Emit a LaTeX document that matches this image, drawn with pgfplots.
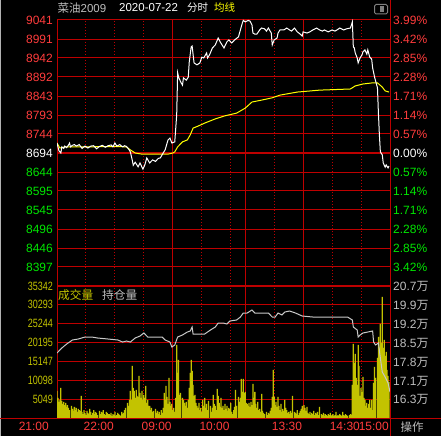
\documentclass[border=0pt]{standalone}
\usepackage{pgfplots}
\pgfplotsset{compat=1.18}
\usepackage{fontspec}
\setmainfont{Liberation Sans}
\newfontfamily\cjk{Noto Sans CJK SC}
\newfontfamily\narrow[FakeStretch=0.75]{Liberation Sans}

\definecolor{gridred}{RGB}{190,0,0}
\definecolor{upred}{RGB}{255,60,60}
\definecolor{dngreen}{RGB}{0,230,0}
\definecolor{avgyel}{RGB}{255,255,0}
\definecolor{volyel}{RGB}{195,195,0}
\definecolor{oigray}{RGB}{200,200,200}
\definecolor{txtgray}{RGB}{190,190,190}

\pgfplotsset{
  panel/.style={
    anchor=south west, scale only axis, width=333pt,
    xmin=0, xmax=345,
    axis line style={draw=gridred, line width=1pt},
    tick style={draw=none}, major tick length=0pt, minor tick length=0pt,
    xtick={0,60,120,180,255,315,345},
    minor xtick={30,60,90,150,180,225,285,315},
    xmajorgrids=false, xminorgrids=true, ymajorgrids=true,
    major grid style={gridred, line width=1pt},
    minor grid style={gridred, line width=1pt, dash pattern=on 1pt off 2pt},
    extra x ticks={120,195,255}, extra x tick labels={},
    extra x tick style={grid=major, major grid style={gridred, line width=1pt}},
    ticklabel style={font=\fontsize{12}{14}\selectfont, inner sep=0pt},
  },
}

\begin{document}
\begin{tikzpicture}
\fill[black] (0pt,0pt) rectangle (441pt,436pt);

% price panel
\begin{axis}[panel, at={(57pt,150pt)}, height=266pt,
  ymin=8347, ymax=9041,
  xticklabels={},
  ytick={8396.6,8446.1,8495.7,8545.3,8594.9,8644.4,8694,8743.6,8793.1,8842.7,8892.3,8941.9,8991.4,9041},
  yticklabels={\textcolor{dngreen}{8397},\textcolor{dngreen}{8446},\textcolor{dngreen}{8496},\textcolor{dngreen}{8545},\textcolor{dngreen}{8595},\textcolor{dngreen}{8644},\textcolor{white}{8694},\textcolor{upred}{8744},\textcolor{upred}{8793},\textcolor{upred}{8843},\textcolor{upred}{8892},\textcolor{upred}{8942},\textcolor{upred}{8991},\textcolor{upred}{9041}},
  yticklabel style={xshift=-4pt},
]
\draw[gridred, line width=2.5pt] (axis cs:0,8694) -- (axis cs:345,8694);
% average price
\addplot[avgyel, line width=1pt] coordinates {
(0,8720)(3,8707)(5,8708)(8,8710)(30,8710)(60,8711)(72,8710)(76,8702)(81,8694)(88,8691)(115,8691)(120,8694)(122,8697)(125,8710)(130,8723)(135,8728)(138,8741)(141,8759)(146,8764)(153,8772)(164,8783)(174,8791)(186,8798)(195,8811)(202,8827)(212,8832)(223,8838)(231,8845)(249,8853)(272,8858)(304,8861)(309,8869)(317,8874)(327,8877)(332,8877)(337,8866)(340,8856)(344,8853)
};
% last price
\addplot[white, line width=1pt] coordinates {
(0,8720)(2,8700)(4,8694)(5,8710)(7,8706)(8,8712)(10,8708)(12,8715)(13,8720)(14,8710)(16,8714)(18,8716)(20,8712)(23,8716)(26,8706)(29,8712)(32,8707)(35,8712)(38,8713)(41,8705)(44,8711)(47,8714)(50,8709)(53,8713)(56,8715)(58,8710)(60,8720)(62,8712)(65,8716)(68,8710)(70,8713)(72,8711)(74,8705)(76,8697)(78,8675)(79,8662)(81,8670)(84,8658)(86,8668)(89,8652)(91,8663)(93,8681)(96,8668)(99,8676)(102,8672)(105,8680)(107,8681)(110,8694)(112,8702)(115,8728)(117,8733)(119,8720)(122,8723)(124,8793)(125,8903)(126,8892)(128,8880)(130,8871)(131,8890)(134,8884)(136,8892)(137,8931)(139,8971)(140,8973)(142,8929)(145,8924)(148,8929)(150,8944)(152,8942)(155,8955)(156,8942)(158,8950)(161,8968)(164,8976)(167,8994)(169,8984)(171,8976)(173,8968)(176,8984)(178,8989)(181,8981)(184,8989)(188,8997)(190,9015)(192,9033)(193,9040)(195,9036)(198,9040)(200,9038)(202,9028)(203,9007)(205,9004)(207,9004)(210,9015)(212,9020)(215,9018)(217,9012)(219,9020)(222,9007)(223,8976)(225,8989)(228,8994)(229,9007)(231,9015)(235,9015)(238,9020)(241,9015)(243,9012)(246,9020)(249,9010)(252,9004)(254,8999)(255,9010)(259,9007)(262,9010)(265,9015)(269,9020)(272,9015)(275,9012)(277,9015)(281,9010)(285,9015)(288,9012)(290,9015)(293,9020)(297,9015)(300,9018)(304,9020)(306,9036)(307,8971)(308,8968)(309,8955)(311,8942)(312,8929)(314,8942)(316,8950)(317,8958)(319,8963)(321,8952)(322,8963)(324,8944)(326,8939)(327,8916)(329,8892)(332,8864)(333,8798)(334,8741)(335,8697)(337,8689)(338,8668)(340,8657)(341,8663)(343,8655)(344,8660)
};
\end{axis}

% percent scale on the right
\begin{axis}[at={(57pt,150pt)}, anchor=south west, scale only axis, width=333pt, height=266pt,
  xmin=0, xmax=345, ymin=-3.99, ymax=3.99,
  hide x axis, axis y line*=right, axis line style={draw=none},
  tick style={draw=none}, major tick length=0pt,
  ytick={-3.42,-2.85,-2.28,-1.71,-1.14,-0.57,0,0.57,1.14,1.71,2.28,2.85,3.42,3.99},
  yticklabels={\textcolor{dngreen}{3.42\%},\textcolor{dngreen}{2.85\%},\textcolor{dngreen}{2.28\%},\textcolor{dngreen}{1.71\%},\textcolor{dngreen}{1.14\%},\textcolor{dngreen}{0.57\%},\textcolor{white}{0.00\%},\textcolor{upred}{0.57\%},\textcolor{upred}{1.14\%},\textcolor{upred}{1.71\%},\textcolor{upred}{2.28\%},\textcolor{upred}{2.85\%},\textcolor{upred}{3.42\%},\textcolor{upred}{3.99\%}},
  yticklabel style={font=\fontsize{12}{14}\selectfont, inner sep=0pt, anchor=west, xshift=3pt},
]
\end{axis}

% volume panel
\begin{axis}[panel, at={(57pt,18pt)}, height=132pt,
  ymin=0, ymax=35342,
  xticklabels={21:00\hspace*{7pt},22:00,09:00,10:00,13:30,14:30,15:00},
  xticklabel style={anchor=north east, text=upred, xshift=-1pt, yshift=-4pt},
  ytick={5049,10098,15147,20195,25244,30293,35342},
  yticklabels={5049,10098,15147,20195,25244,30293,35342},
  yticklabel style={font=\narrow\fontsize{12}{14}\selectfont, text=volyel, xshift=-4pt},
  scaled y ticks=false,
]
\addplot[ybar, bar width=1.3, fill=volyel, draw=none] coordinates {
(0,7240)(1,5360)(2,4290)(3,4820)(4,8040)(5,4560)(6,3750)(7,4290)(8,3480)(9,4020)(10,2950)(11,3480)(12,2680)(13,2140)
(15,3220)(16,2410)(17,1880)(18,2950)(19,2140)(20,2680)(21,1610)(22,2410)(23,2140)(24,1880)(25,5900)(26,1610)(27,1070)(28,2140)
(29,1340)(30,800)(31,1880)(32,1340)(33,1070)(34,2410)(35,1610)(36,800)(37,1340)(38,2140)(39,1070)(40,1610)(41,1340)(42,800)
(44,1880)(45,1070)(46,1610)(47,1340)(48,2140)(49,1070)(50,800)(51,1610)(52,1340)(53,1070)(54,1070)(55,800)(56,1340)(57,540)
(58,1070)(59,800)(60,1610)(61,540)(62,800)(63,1340)(64,1070)(65,800)(66,540)(67,1610)(68,1070)(69,1340)(70,2140)(71,2680)
(73,4020)(74,3220)(75,4820)(76,7240)(77,4820)(78,13940)(79,8040)(80,7240)(81,5360)(82,7500)(83,5900)(84,5630)(85,11260)(86,6700)
(87,5360)(88,7240)(89,4820)(90,6160)(91,5360)(92,8580)(93,4020)(94,4820)(95,3220)(96,3220)(97,2140)(98,2680)(99,1610)(100,1880)
(102,2410)(103,1340)(104,1880)(105,1070)(106,1610)(107,800)(108,2140)(109,1340)(110,2680)(111,6700)(112,4820)(113,8580)(114,5630)
(115,3750)(116,10720)(117,4290)(118,3220)(119,3750)(120,2140)(121,2680)(122,1610)(123,5360)(124,19560)(125,12060)(126,15540)(127,6160)(128,6700)
(130,5360)(131,4820)(132,4020)(133,3220)(134,4290)(135,2680)(136,4820)(137,8040)(138,12060)(139,15540)(140,12600)(141,8840)(142,5900)(143,6160)
(144,4020)(145,3220)(146,2680)(147,4020)(148,2140)(149,2680)(150,1610)(151,4820)(152,3220)(153,5360)(154,2680)(155,3750)(156,2140)(157,4560)
(159,3220)(160,1610)(161,2680)(162,6160)(163,3750)(164,3220)(165,2140)(166,7770)(167,5900)(168,4020)(169,2950)(170,5360)(171,2680)(172,3220)
(173,2140)(174,3750)(175,2410)(176,3220)(177,1880)(178,2680)(179,2410)(180,4020)(181,1610)(182,1070)(183,2140)(184,2950)(185,7500)(186,3220)
(188,5630)(189,4290)(190,5360)(191,10450)(192,6970)(193,10450)(194,6700)(195,6970)(196,4020)(197,3750)(198,3220)(199,4020)(200,2950)(201,4290)
(202,3480)(203,9110)(204,5360)(205,6970)(206,3750)(207,2680)(208,4290)(209,2140)(210,2410)(211,1610)(212,6430)(213,1880)(214,1340)(215,1070)
(217,1610)(218,800)(219,1340)(220,1070)(221,1880)(222,2680)(223,5630)(224,12860)(225,5630)(226,3480)(227,4290)(228,2950)(229,5630)(230,3220)
(231,2140)(232,3750)(233,1610)(234,2410)(235,1880)(236,4820)(237,2680)(238,2140)(239,1340)(240,1610)(241,1070)(242,1880)(243,1340)(244,5900)
(246,1610)(247,1340)(248,1070)(249,2140)(250,800)(251,1340)(252,1880)(253,2410)(254,3220)(255,2140)(256,3480)(257,2680)(258,1880)(259,2950)
(260,1340)(261,1070)(262,1610)(263,800)(264,1340)(265,1070)(266,1880)(267,800)(268,1340)(269,1070)(270,1610)(271,800)(272,2950)
(274,1070)(275,800)(276,1340)(277,540)(278,1070)(279,800)(280,540)(281,1070)(282,800)(283,1340)(284,540)(285,800)(286,1070)(287,540)
(288,800)(289,1610)(290,540)(291,800)(292,540)(293,1070)(294,800)(295,540)(296,1610)(297,800)(298,540)(299,1070)(300,800)(301,540)
(303,800)(304,1070)(305,800)(306,8840)(307,19830)(308,14740)(309,17150)(310,10720)(311,8840)(312,19560)(313,13940)(314,5900)(315,8040)(316,6970)
(317,10990)(318,5360)(319,4820)(320,3220)(321,4020)(322,2680)(323,3750)(324,4820)(325,2680)(326,4820)(327,2140)(328,9380)(329,13670)(330,10720)
(332,16080)(333,21710)(334,18760)(335,25190)(336,20100)(337,32430)(338,18760)(339,20900)(340,16620)(341,17690)(342,12860)(343,11260)(344,9650)
};
\end{axis}

% open interest on the right
\begin{axis}[at={(57pt,18pt)}, anchor=south west, scale only axis, width=333pt, height=132pt,
  xmin=0, xmax=345, ymin=156060, ymax=207000,
  hide x axis, axis y line*=right, axis line style={draw=none},
  tick style={draw=none}, major tick length=0pt, scaled y ticks=false,
  ytick={163393,170340,177670,185000,192336,199668,207000},
  yticklabels={16.3{\cjk 万},17.1{\cjk 万},17.8{\cjk 万},18.5{\cjk 万},19.2{\cjk 万},19.9{\cjk 万},20.7{\cjk 万}},
  yticklabel style={font=\fontsize{12}{14}\selectfont, text=txtgray, inner sep=0pt, anchor=west, xshift=3pt},
]
\addplot[oigray, line width=1pt] coordinates {
(0,181140)(5,183070)(10,184610)(16,186160)(22,186540)(29,187310)(36,187310)(42,186930)(53,186540)(63,186160)(68,185380)(72,185770)(76,185380)
(81,186930)(86,187700)(90,188860)(94,187310)(102,187310)(109,187310)(112,186160)(117,185380)(119,183450)(122,184230)(125,187310)(130,188090)
(135,189240)(138,189630)(140,191170)(141,188470)(146,188470)(153,188470)(159,190020)(164,191170)(167,192720)(172,192720)(176,192330)(179,193490)
(186,193870)(190,195030)(193,196580)(197,196580)(202,197740)(205,196580)(208,196580)(213,196580)(219,196580)(223,195030)(226,195030)(229,196580)
(233,195810)(236,196960)(241,197350)(247,196580)(254,195420)(265,195030)(272,195030)(283,195030)(293,195030)(301,195030)(306,193870)(307,191170)
(311,190020)(312,187310)(314,188090)(317,188860)(322,189240)(327,189630)(328,185380)(330,184230)(333,184990)(335,179210)(337,173800)(340,171870)
(343,169550)(345,166080)
};
\end{axis}

% frame lines
\draw[gray!60, line width=1pt] (0.5pt,0pt) -- (0.5pt,436pt);
\draw[gridred, line width=1pt] (390pt,0pt) -- (390pt,436pt);
\draw[gridred, line width=1pt] (0pt,18pt) -- (441pt,18pt);
\draw[gridred, line width=2pt] (57pt,150pt) -- (390pt,150pt);

% header
\node[anchor=west, inner sep=0pt, text=txtgray, font=\fontsize{11.5}{13}\selectfont] at (57.5pt,428pt) {{\cjk 菜油}2009};
\node[anchor=west, inner sep=0pt, text=white, font=\fontsize{11.5}{13}\selectfont] at (119pt,428pt) {2020-07-22};
\node[anchor=west, inner sep=0pt, text=white, font=\cjk\fontsize{10.5}{13}\selectfont] at (187pt,428pt) {分时};
\node[anchor=west, inner sep=0pt, text=avgyel, font=\cjk\fontsize{10.5}{13}\selectfont] at (214pt,428pt) {均线};
\draw[gray, line width=1pt, rounded corners=1.5pt] (374.5pt,422pt) rectangle (387.5pt,431.5pt);
\fill[gray] (380pt,424pt) rectangle (384pt,429.5pt);

% volume panel captions
\node[anchor=west, inner sep=0pt, text=volyel, font=\cjk\fontsize{11.7}{13}\selectfont] at (58pt,140.5pt) {成交量};
\node[anchor=west, inner sep=0pt, text=txtgray, font=\cjk\fontsize{11.7}{13}\selectfont] at (102pt,140.5pt) {持仓量};
\node[anchor=center, inner sep=0pt, text=txtgray, font=\cjk\fontsize{11.5}{13}\selectfont] at (412pt,9pt) {操作};

\pgfresetboundingbox
\path (0pt,0pt) rectangle (441pt,436pt);
\end{tikzpicture}
\end{document}
